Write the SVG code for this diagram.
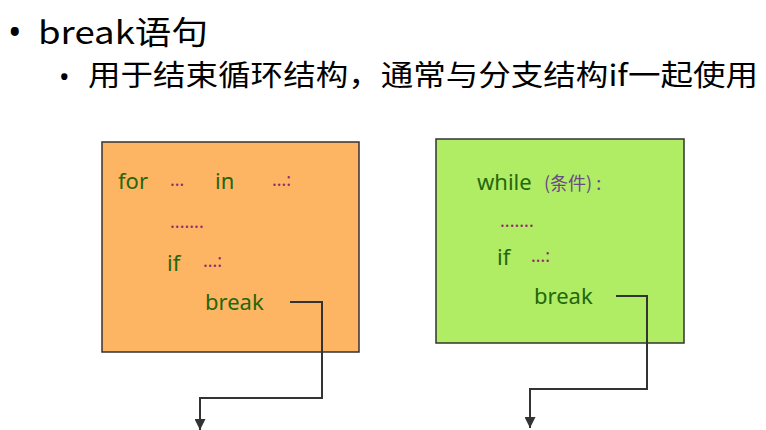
<svg xmlns="http://www.w3.org/2000/svg" width="766" height="430" viewBox="0 0 766 430">
<style>
.h{font-family:"Noto Sans CJK SC","Noto Sans",sans-serif;fill:#000}
.b{font-family:"Noto Sans",sans-serif;fill:#000}
.c{font-family:"Noto Sans","Noto Sans CJK SC",sans-serif;font-size:22px;fill:#23670C}
.d{font-family:"Noto Sans",sans-serif;font-size:18px;fill:#8E2A6E}
.p{font-family:"Noto Sans CJK SC","Noto Sans",sans-serif;font-size:18px;fill:#6A4A86}
.box{stroke:#333;stroke-width:1.5}
.link{fill:none;stroke:#333;stroke-width:2}
</style>
<defs>
<marker id="ah" viewBox="0 0 10 10" refX="10" refY="5" markerWidth="6" markerHeight="5.5" orient="auto" markerUnits="strokeWidth">
<path d="M0,0 L10,5 L0,10 z" fill="#333"/>
</marker>
</defs>
<rect width="766" height="430" fill="#fff"/>
<g id="title">
<text class="b" x="8" y="45" font-size="36">•</text>
<text class="h" x="38" y="44" font-size="32" textLength="170" lengthAdjust="spacingAndGlyphs">break语句</text>
<text class="b" x="59" y="87" font-size="28">•</text>
<text class="h" x="88" y="86" font-size="29" textLength="670" lengthAdjust="spacingAndGlyphs">用于结束循环结构，通常与分支结构if一起使用</text>
</g>
<g id="forBox">
<rect class="box" x="102" y="142" width="257" height="210" fill="#FDB564"/>
<text class="c" x="118" y="189">for</text>
<text class="d" x="170" y="186">…</text>
<text class="c" x="215" y="189">in</text>
<text class="d" x="272" y="186">…:</text>
<text class="d" x="170" y="228">.......</text>
<text class="c" x="167" y="271">if</text>
<text class="d" x="203" y="267">…:</text>
<text class="c" x="205" y="310">break</text>
</g>
<g id="whileBox">
<rect class="box" x="436" y="139" width="248" height="204" fill="#B0EC64"/>
<text class="c" x="477" y="190">while</text>
<text class="p" x="544" y="190">(条件) :</text>
<text class="d" x="500" y="227">.......</text>
<text class="c" x="497" y="265">if</text>
<text class="d" x="531" y="262">…:</text>
<text class="c" x="534" y="304">break</text>
</g>
<g id="connectors">
<path class="link" d="M290,302 H322 V398 H200 V430" marker-end="url(#ah)"/>
<path class="link" d="M616,296 H647 V389 H530 V428" marker-end="url(#ah)"/>
</g>
</svg>
